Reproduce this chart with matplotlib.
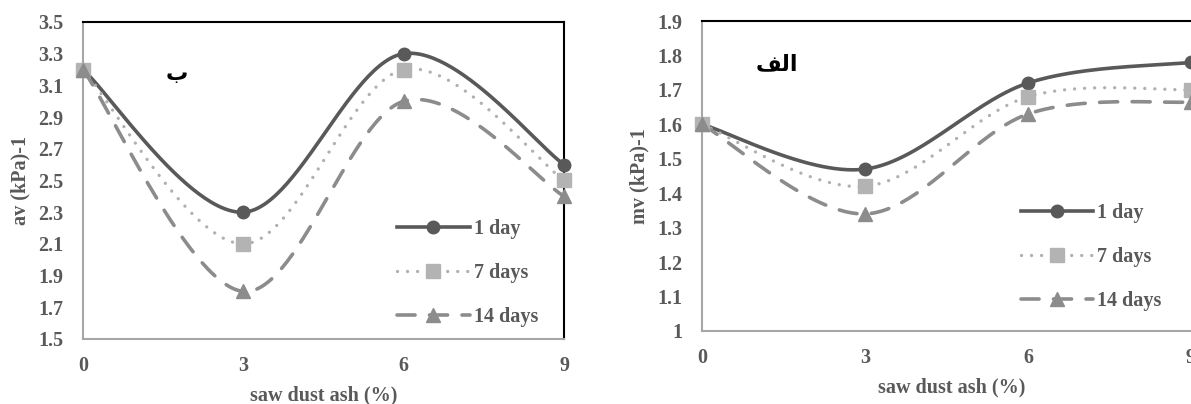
import numpy as np
import matplotlib
matplotlib.use("Agg")
import matplotlib.pyplot as plt
from matplotlib.lines import Line2D

# saw dust ash content (%)
ash = [0, 3, 6, 9]

# coefficient of compressibility, av (kPa)-1
av_1day = [3.2, 2.3, 3.3, 2.6]
av_7days = [3.2, 2.1, 3.2, 2.5]
av_14days = [3.2, 1.8, 3.0, 2.4]

# coefficient of volume compressibility, mv (kPa)-1
mv_1day = [1.6, 1.47, 1.72, 1.78]
mv_7days = [1.6, 1.42, 1.68, 1.70]
mv_14days = [1.6, 1.34, 1.63, 1.665]

labels = ["1 day", "7 days", "14 days"]
av_ticks = [1.5, 1.7, 1.9, 2.1, 2.3, 2.5, 2.7, 2.9, 3.1, 3.3, 3.5]
mv_ticks = [1, 1.1, 1.2, 1.3, 1.4, 1.5, 1.6, 1.7, 1.8, 1.9]

GREY_TXT = "#595959"
FS = 14.5
STYLES = [
    dict(color="#595959", lw=2.6, ls="-", marker="o", ms=9, mfc="#595959", mec="#595959"),
    dict(color="#b0b0b0", lw=2.4, ls=(0, (0.01, 3.0)), marker="s", ms=10, mfc="#b3b3b3", mec="#b3b3b3"),
    dict(color="#8c8c8c", lw=2.6, ls=(0, (5, 4)), marker="^", ms=10, mfc="#8c8c8c", mec="#8c8c8c"),
]

plt.rcParams["font.family"] = ["Liberation Serif", "DejaVu Serif"]
plt.rcParams["font.weight"] = "bold"
plt.rcParams["axes.labelweight"] = "bold"


def smooth(x, y, n=60):
    """Excel-style smoothed line: Bezier segments with 1/6 tangent handles."""
    p = np.column_stack([x, y]).astype(float)
    ext = np.vstack([p[0], p, p[-1]])
    t = np.linspace(0, 1, n)[:, None]
    out = []
    for i in range(len(p) - 1):
        p0, p3 = p[i], p[i + 1]
        c1 = p0 + (ext[i + 2] - ext[i]) / 6.0
        c2 = p3 - (ext[i + 3] - ext[i + 1]) / 6.0
        seg = ((1 - t) ** 3) * p0 + 3 * ((1 - t) ** 2) * t * c1 \
            + 3 * (1 - t) * t ** 2 * c2 + t ** 3 * p3
        out.append(seg if i == 0 else seg[1:])
    seg = np.vstack(out)
    return seg[:, 0], seg[:, 1]


def draw_panel(ax, series, yticks, ylabel, xmax, tag, tag_xy, legend_anchor):
    for vals, st in zip(series, STYLES):
        sx, sy = smooth(ash, vals)
        ax.plot(sx, sy, color=st["color"], lw=st["lw"], ls=st["ls"],
                dash_capstyle="round", solid_capstyle="round", zorder=3)
        ax.plot(ash, vals, ls="none", marker=st["marker"], ms=st["ms"],
                mfc=st["mfc"], mec=st["mec"], zorder=4, clip_on=False)

    ax.set_xlim(0, xmax)
    ax.set_ylim(yticks[0], yticks[-1])
    ax.set_xticks(ash)
    ax.set_yticks(yticks)
    ax.set_yticklabels([f"{v:g}" for v in yticks])
    ax.tick_params(length=0, labelsize=FS, colors=GREY_TXT, pad=14)
    ax.tick_params(axis="x", pad=12)
    for s in ("left", "bottom"):
        ax.spines[s].set_color("#a6a6a6")
        ax.spines[s].set_linewidth(1.5)
    for s in ("top", "right"):
        ax.spines[s].set_color("black")
        ax.spines[s].set_linewidth(1.5)

    ax.set_xlabel("saw dust ash (%)", fontsize=FS, color=GREY_TXT, labelpad=7)
    ax.set_ylabel(ylabel, fontsize=FS, color=GREY_TXT, labelpad=6)

    ax.text(tag_xy[0], tag_xy[1], tag, transform=ax.transAxes,
            fontsize=16, fontweight="bold", family="DejaVu Sans",
            ha="center", va="center", color="black")

    handles = [Line2D([], [], color=st["color"], lw=st["lw"], ls=st["ls"],
                      dash_capstyle="round", marker=st["marker"], ms=st["ms"],
                      mfc=st["mfc"], mec=st["mec"]) for st in STYLES]
    ax.legend(handles, labels, loc="lower left", bbox_to_anchor=legend_anchor,
              frameon=False, fontsize=FS, handlelength=3.6, handletextpad=0.2,
              labelspacing=1.2, labelcolor=GREY_TXT, borderaxespad=0)


fig = plt.figure(figsize=(11.91, 4.04), dpi=100)
ax1 = fig.add_axes([0.0697, 0.1609, 0.4039, 0.7847])
ax2 = fig.add_axes([0.5894, 0.1807, 0.4197, 0.7673])

draw_panel(ax1, [av_1day, av_7days, av_14days], av_ticks, "av (kPa)-1", 9,
           "\u0628", (0.195, 0.835), (0.636, 0.011))
draw_panel(ax2, [mv_1day, mv_7days, mv_14days], mv_ticks, "mv (kPa)-1", 9.2,
           "\uFED2\uFEDF\uFE8D", (0.15, 0.86), (0.622, 0.037))

fig.savefig("out.png", dpi=100)
